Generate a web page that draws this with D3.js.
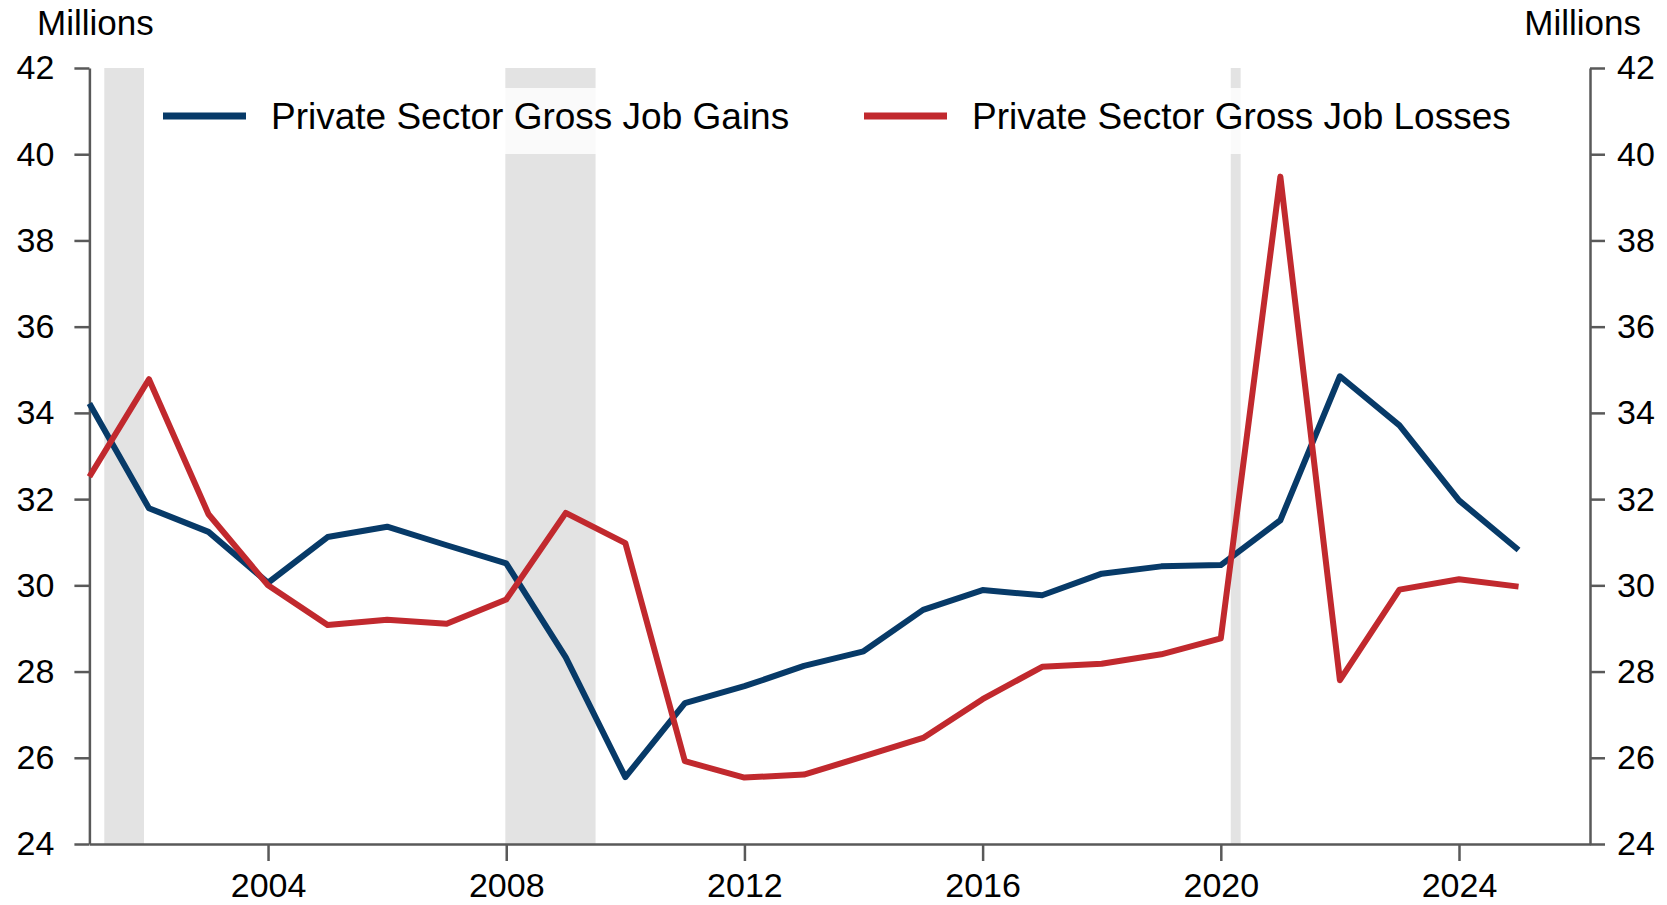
<!DOCTYPE html>
<html>
<head>
<meta charset="utf-8">
<script src="https://cdn.jsdelivr.net/npm/d3@7"></script>
<style>
  html, body { margin: 0; padding: 0; background: #fff; }
  svg { display: block; font-family: "Liberation Sans", Arial, sans-serif; }
  .axis path, .axis line { stroke: #595959; stroke-width: 2.5; }
  .axis text { fill: #000; font-size: 34px; font-family: "Liberation Sans", Arial, sans-serif; }
</style>
</head>
<body>
<svg id="chart" width="1667" height="905"></svg>
<script>
// Annual private sector gross job flows, millions
const years = [2001, 2002, 2003, 2004, 2005, 2006, 2007, 2008, 2009, 2010, 2011, 2012, 2013,
               2014, 2015, 2016, 2017, 2018, 2019, 2020, 2021, 2022, 2023, 2024, 2025];
const jobGains = [34.22, 31.79, 31.24, 30.06, 31.12, 31.36, 30.93, 30.51, 28.33, 25.55, 27.27, 27.66, 28.13,
                  28.47, 29.43, 29.89, 29.77, 30.27, 30.44, 30.47, 31.51, 34.85, 33.71, 31.97, 30.82];
const jobLosses = [32.52, 34.78, 31.65, 30.0, 29.08, 29.2, 29.11, 29.67, 31.68, 30.98, 25.92, 25.54, 25.61,
                   26.03, 26.46, 27.36, 28.11, 28.18, 28.4, 28.77, 39.48, 27.8, 29.9, 30.14, 29.97];

// Recession periods (fractional years)
const recessionStart = [2001.25, 2007.985, 2020.167];
const recessionEnd   = [2001.917, 2009.5, 2020.333];

const yTicks = [24, 26, 28, 30, 32, 34, 36, 38, 40, 42];
const xTicks = [2004, 2008, 2012, 2016, 2020, 2024];

const seriesNames = ["Private Sector Gross Job Gains", "Private Sector Gross Job Losses"];
const seriesColors = ["#073a68", "#c1292e"];

(function draw() {
  const svg = d3.select("#chart");
  const plotLeft = 89.4, plotRight = 1590, plotTop = 68, plotBottom = 844;

  const x = d3.scaleLinear().domain([2001, 2026.2]).range([plotLeft, plotRight]);
  const y = d3.scaleLinear().domain([24, 42]).range([plotBottom, plotTop]);

  // Recession shading
  svg.append("g").selectAll("rect")
    .data(recessionStart.map((s, i) => [s, recessionEnd[i]]))
    .join("rect")
    .attr("x", d => x(d[0]))
    .attr("width", d => x(d[1]) - x(d[0]))
    .attr("y", y(42))
    .attr("height", y(24) - y(42))
    .attr("fill", "#e3e3e3");

  // Legend backdrop
  svg.append("rect")
    .attr("x", 150).attr("y", 88)
    .attr("width", 1300).attr("height", 66)
    .attr("fill", "#fff").attr("fill-opacity", 0.82);

  // Axes
  svg.append("g").attr("class", "axis")
    .attr("transform", `translate(0,${plotBottom})`)
    .call(d3.axisBottom(x).tickValues(xTicks).tickFormat(d3.format("d"))
          .tickSize(17).tickSizeOuter(0).tickPadding(12));

  svg.append("g").attr("class", "axis")
    .attr("transform", `translate(${plotLeft},0)`)
    .call(d3.axisLeft(y).tickValues(yTicks).tickFormat(d3.format("d"))
          .tickSize(15).tickSizeOuter(0).tickPadding(20));

  svg.append("g").attr("class", "axis")
    .attr("transform", `translate(${plotRight},0)`)
    .call(d3.axisRight(y).tickValues(yTicks).tickFormat(d3.format("d"))
          .tickSize(15).tickSizeOuter(0).tickPadding(12));

  // Unit labels
  svg.append("text").attr("x", 37).attr("y", 35)
    .attr("font-size", 35).attr("fill", "#000").text("Millions");
  svg.append("text").attr("x", 1641).attr("y", 35)
    .attr("text-anchor", "end")
    .attr("font-size", 35).attr("fill", "#000").text("Millions");

  // Lines
  const line = d3.line().x((d, i) => x(years[i])).y(d => y(d));
  [jobGains, jobLosses].forEach((vals, k) => {
    svg.append("path")
      .datum(vals)
      .attr("d", line)
      .attr("fill", "none")
      .attr("stroke", seriesColors[k])
      .attr("stroke-width", 6)
      .attr("stroke-linejoin", "round");
  });

  // Legend
  const legendX = [163, 864];
  const legend = svg.append("g");
  seriesNames.forEach((name, k) => {
    legend.append("line")
      .attr("x1", legendX[k]).attr("x2", legendX[k] + 83)
      .attr("y1", 116).attr("y2", 116)
      .attr("stroke", seriesColors[k]).attr("stroke-width", 7);
    legend.append("text")
      .attr("x", legendX[k] + 108).attr("y", 116).attr("dy", "0.36em")
      .attr("font-size", 37).attr("fill", "#000")
      .text(name);
  });
})();
</script>
</body>
</html>
